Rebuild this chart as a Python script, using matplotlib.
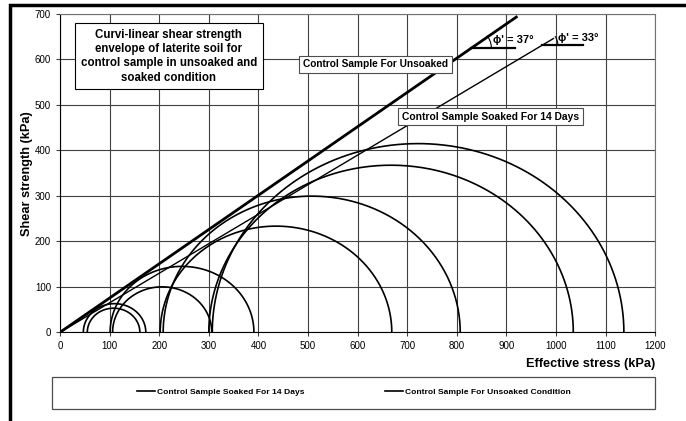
import matplotlib.pyplot as plt
import matplotlib.patches as patches
import numpy as np

# Mohr circles: minor / major principal effective stress (kPa)
unsoaked_s3 = [47, 101, 208, 307]
unsoaked_s1 = [173, 391, 807, 1137]
soaked_s3 = [55, 106, 202, 300]
soaked_s1 = [161, 306, 669, 1035]

# failure envelopes (friction angle in degrees, end of drawn line in kPa)
phi_unsoaked = 37
phi_soaked = 33
env_end_unsoaked = 920
env_end_soaked = 995

plt.rcParams['font.family'] = ['Liberation Sans', 'DejaVu Sans']

fig = plt.figure(figsize=(6.86, 4.21), dpi=100)
ax = fig.add_axes([0.0875, 0.2107, 0.8675, 0.756])

theta = np.linspace(0, np.pi, 300)


def draw_circles(s3_list, s1_list, label):
    for i, (s3, s1) in enumerate(zip(s3_list, s1_list)):
        c = (s1 + s3) / 2.0
        r = (s1 - s3) / 2.0
        ax.plot(c + r * np.cos(theta), r * np.sin(theta), color='black', lw=1.2,
                label=label if i == 0 else None)


draw_circles(soaked_s3, soaked_s1, 'Control Sample Soaked For 14 Days')
draw_circles(unsoaked_s3, unsoaked_s1, 'Control Sample For Unsoaked Condition')

# envelopes
xe = np.array([0, env_end_unsoaked])
ax.plot(xe, xe * np.tan(np.radians(phi_unsoaked)), color='black', lw=2)
xe = np.array([0, env_end_soaked])
ax.plot(xe, xe * np.tan(np.radians(phi_soaked)), color='black', lw=1)

ax.set_xlim(0, 1200)
ax.set_ylim(0, 700)
ax.set_xticks(range(0, 1201, 100))
ax.set_yticks(range(0, 701, 100))
ax.grid(True, color='0.25', lw=0.8)
ax.set_axisbelow(True)
ax.tick_params(labelsize=7, length=3, width=0.8, colors='0.25', labelcolor='black')
for s in ['top', 'right']:
    ax.spines[s].set_color('0.45')
for s in ['left', 'bottom']:
    ax.spines[s].set_color('black')

ax.set_ylabel('Shear strength (kPa)', fontsize=9.2, fontweight='bold', labelpad=1)
ax.set_xlabel('Effective stress (kPa)', fontsize=9.2, fontweight='bold', loc='right', labelpad=5)

# angle annotations
sx = ax.transData.transform((1, 0))[0] - ax.transData.transform((0, 0))[0]
sy = ax.transData.transform((0, 1))[1] - ax.transData.transform((0, 0))[1]


def angle_mark(phi, yh, seg, rad_px, tx, ty):
    x0 = yh / np.tan(np.radians(phi))
    ax.plot([x0, x0 + seg], [yh, yh], color='black', lw=1.6)
    t = np.linspace(0, np.radians(phi), 30)
    ax.plot(x0 + rad_px * np.cos(t) / sx, yh + rad_px * np.sin(t) / sy, color='black', lw=0.8)
    ax.text(tx, ty, "ϕ' = %d°" % phi, fontsize=8, fontweight='bold', va='center')


angle_mark(phi_unsoaked, 625, 88, 20, 874, 642)
angle_mark(phi_soaked, 631, 82, 16, 1005, 648)

ax.text(219, 607, 'Curvi-linear shear strength\nenvelope of laterite soil for\ncontrol sample in unsoaked and\nsoaked condition',
        fontsize=8.3, fontweight='bold', ha='center', va='center', linespacing=1.25,
        bbox=dict(boxstyle='square,pad=0.5', fc='white', ec='black', lw=0.8))
ax.text(636, 589, 'Control Sample For Unsoaked', fontsize=7.3, fontweight='bold',
        ha='center', va='center', bbox=dict(boxstyle='square,pad=0.35', fc='white', ec='0.3', lw=0.8))
ax.text(868, 474, 'Control Sample Soaked For 14 Days', fontsize=7.4, fontweight='bold',
        ha='center', va='center', bbox=dict(boxstyle='square,pad=0.35', fc='white', ec='0.3', lw=0.8))

# legend frame drawn as a separate box, entries centred inside it
fig.patches.append(patches.Rectangle((52 / 686, 1 - 409 / 421), (655 - 52) / 686, 32 / 421,
                                     transform=fig.transFigure, fill=False, ec='0.3', lw=0.9))
leg = fig.legend(loc='center', bbox_to_anchor=(354 / 686, 1 - 392 / 421),
                 ncol=2, prop={'weight': 'bold', 'size': 6.1}, frameon=False,
                 handlelength=2.1, handletextpad=0.25, borderaxespad=0, columnspacing=9.5)

# outer chart border
fig.patches.append(patches.Rectangle((10 / 686, -0.1), 1.2, 1.0 - 5 / 421 + 0.1,
                                     transform=fig.transFigure, fill=False, ec='black', lw=2.5))

fig.savefig('out.png', dpi=100)
